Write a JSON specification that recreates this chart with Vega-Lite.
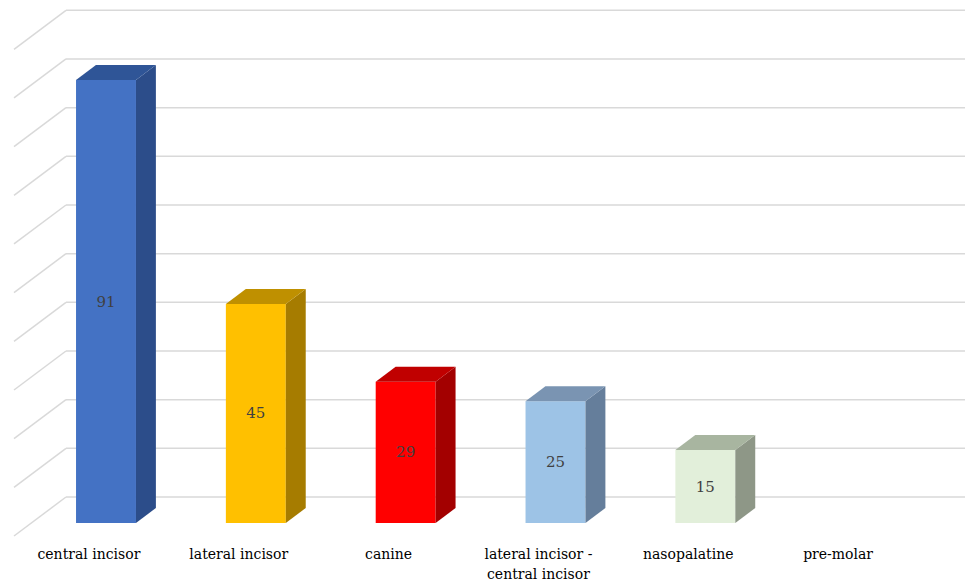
{
  "$schema": "https://vega.github.io/schema/vega-lite/v6.json",
  "width": 951,
  "height": 526,
  "autosize": {"type": "none"},
  "padding": {"left": 14, "top": 10, "right": 2, "bottom": 48},
  "background": "white",
  "config": {"view": {"stroke": null}},
  "datasets": {
    "bars": [
      {"category": "central incisor", "value": 91},
      {"category": "lateral incisor", "value": 45},
      {"category": "canine", "value": 29},
      {"category": "lateral incisor - central incisor", "value": 25},
      {"category": "nasopalatine", "value": 15},
      {"category": "pre-molar", "value": 0}
    ],
    "grid": [
      {"v": 0}, {"v": 10}, {"v": 20}, {"v": 30}, {"v": 40}, {"v": 50},
      {"v": 60}, {"v": 70}, {"v": 80}, {"v": 90}, {"v": 100}
    ]
  },
  "layer": [
    {
      "data": {"name": "grid"},
      "transform": [{"calculate": "datum.v + 5.34", "as": "gy"}],
      "mark": {"type": "rule", "color": "#d9d9d9", "strokeWidth": 1.5},
      "encoding": {
        "x": {"datum": -0.5, "type": "quantitative", "scale": {"domain": [-0.847, 5.5], "nice": false, "zero": false}, "axis": null},
        "x2": {"datum": 5.5},
        "y": {"field": "gy", "type": "quantitative", "scale": {"domain": [-2.67, 105.4], "nice": false, "zero": false}, "axis": null}
      }
    },
    {
      "data": {"name": "grid"},
      "transform": [
        {"calculate": "datum.v + 5.34", "as": "gy"},
        {"calculate": "datum.v - 2.67", "as": "fy"}
      ],
      "mark": {"type": "rule", "color": "#d9d9d9", "strokeWidth": 1.5},
      "encoding": {
        "x": {"datum": -0.847, "type": "quantitative"},
        "x2": {"datum": -0.5},
        "y": {"field": "fy", "type": "quantitative"},
        "y2": {"field": "gy"}
      }
    },
    {
      "data": {"name": "bars"},
      "transform": [
        {"window": [{"op": "row_number", "as": "idx"}]},
        {"filter": "datum.value > 0"},
        {"calculate": "datum.idx - 1 - 0.433", "as": "fx0"},
        {"calculate": "datum.idx - 1 - 0.033", "as": "fx1"}
      ],
      "mark": {"type": "rect"},
      "encoding": {
        "x": {"field": "fx0", "type": "quantitative"},
        "x2": {"field": "fx1"},
        "y": {"field": "value", "type": "quantitative"},
        "y2": {"datum": 0},
        "color": {
          "field": "category", "type": "nominal", "legend": null,
          "scale": {
            "domain": ["central incisor", "lateral incisor", "canine", "lateral incisor - central incisor", "nasopalatine", "pre-molar"],
            "range": ["#4472C4", "#FFC000", "#FF0000", "#9DC3E6", "#E2EFDA", "#A5A5A5"]
          }
        }
      }
    },
    {
      "data": {"name": "bars"},
      "transform": [
        {"window": [{"op": "row_number", "as": "idx"}]},
        {"filter": "datum.value > 0"},
        {"calculate": "[datum.idx - 1 - 0.033, datum.idx - 1 + 0.1]", "as": "sx"},
        {"calculate": "[0, 3.08]", "as": "sy"},
        {"calculate": "[datum.value, datum.value + 3.08]", "as": "sy2"},
        {"flatten": ["sx", "sy", "sy2"]}
      ],
      "mark": {"type": "area", "interpolate": "linear"},
      "encoding": {
        "x": {"field": "sx", "type": "quantitative"},
        "y": {"field": "sy", "type": "quantitative", "stack": null},
        "y2": {"field": "sy2"},
        "detail": {"field": "category"},
        "color": {
          "field": "category", "type": "nominal", "legend": null,
          "scale": {
            "domain": ["central incisor", "lateral incisor", "canine", "lateral incisor - central incisor", "nasopalatine", "pre-molar"],
            "range": ["#2C4D8A", "#A67C00", "#A30000", "#657E9B", "#8E9787", "#777777"]
          }
        }
      }
    },
    {
      "data": {"name": "bars"},
      "transform": [
        {"window": [{"op": "row_number", "as": "idx"}]},
        {"filter": "datum.value > 0"},
        {"calculate": "[datum.idx - 1 - 0.433, datum.idx - 1 - 0.3, datum.idx - 1 - 0.033, datum.idx - 1 + 0.1]", "as": "tx"},
        {"calculate": "[datum.value, datum.value, datum.value, datum.value + 3.08]", "as": "ty"},
        {"calculate": "[datum.value, datum.value + 3.08, datum.value + 3.08, datum.value + 3.08]", "as": "ty2"},
        {"flatten": ["tx", "ty", "ty2"]}
      ],
      "mark": {"type": "area", "interpolate": "linear"},
      "encoding": {
        "x": {"field": "tx", "type": "quantitative"},
        "y": {"field": "ty", "type": "quantitative", "stack": null},
        "y2": {"field": "ty2"},
        "detail": {"field": "category"},
        "color": {
          "field": "category", "type": "nominal", "legend": null,
          "scale": {
            "domain": ["central incisor", "lateral incisor", "canine", "lateral incisor - central incisor", "nasopalatine", "pre-molar"],
            "range": ["#2F5597", "#BF9000", "#C00000", "#7A94B2", "#A8B5A0", "#888888"]
          }
        }
      }
    },
    {
      "data": {"name": "bars"},
      "transform": [
        {"window": [{"op": "row_number", "as": "idx"}]},
        {"filter": "datum.value > 0"},
        {"calculate": "datum.idx - 1 - 0.233", "as": "cx"},
        {"calculate": "datum.value / 2", "as": "cy"}
      ],
      "mark": {"type": "text", "font": "DejaVu Serif", "fontSize": 15, "color": "#404040", "align": "center", "baseline": "middle"},
      "encoding": {
        "x": {"field": "cx", "type": "quantitative"},
        "y": {"field": "cy", "type": "quantitative"},
        "text": {"field": "value", "type": "quantitative"}
      }
    },
    {
      "data": {"name": "bars"},
      "transform": [
        {"window": [{"op": "row_number", "as": "idx"}]},
        {"calculate": "datum.idx - 1 - 0.347", "as": "lx"},
        {"calculate": "replace(datum.category, ' - ', ' -\\n')", "as": "label"}
      ],
      "mark": {"type": "text", "font": "DejaVu Serif", "fontSize": 14, "color": "#000000", "align": "center", "baseline": "top", "dy": 12, "lineBreak": "\n", "lineHeight": 20},
      "encoding": {
        "x": {"field": "lx", "type": "quantitative"},
        "y": {"datum": -2.67, "type": "quantitative"},
        "text": {"field": "label"}
      }
    }
  ],
  "resolve": {"scale": {"color": "independent"}}
}
